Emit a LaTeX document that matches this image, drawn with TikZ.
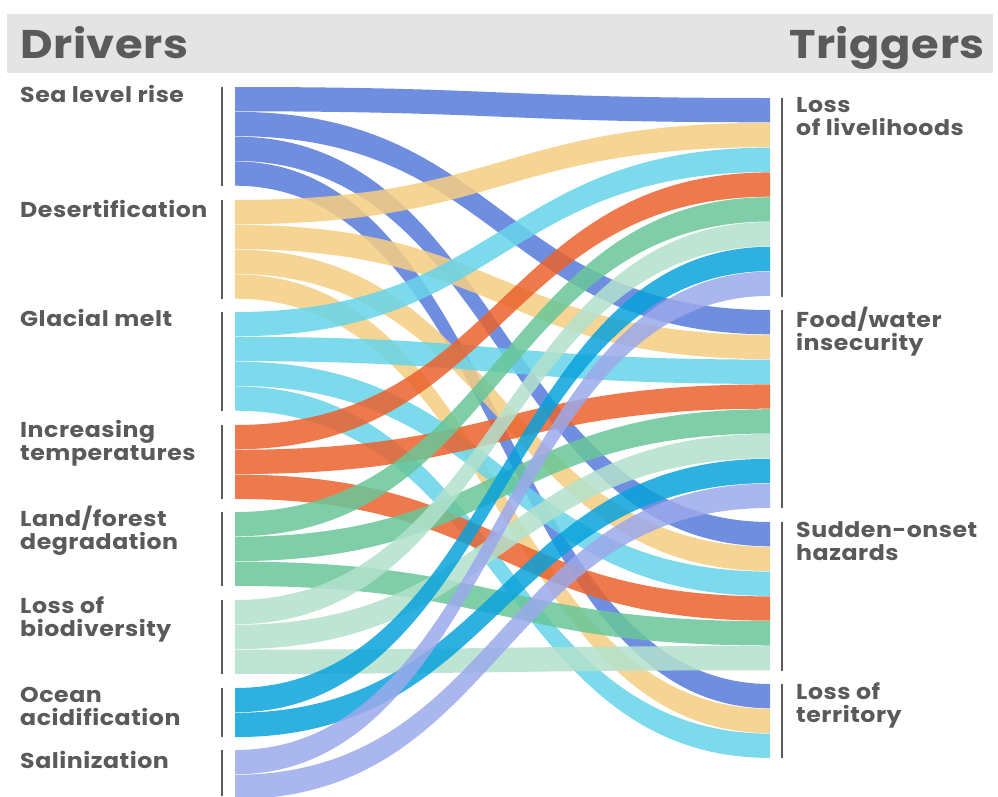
\documentclass[tikz,border=0pt]{standalone}
\usepackage{fontspec}
\setmainfont{Poppins}
\newfontfamily\labelfont{Poppins}[FakeStretch=1.1, LetterSpace=2.5]
\newfontfamily\headfont{Poppins}[FakeStretch=1.12, LetterSpace=1.5]
\usepackage{tikz}

\definecolor{headbg}{RGB}{228,228,228}
\definecolor{inkgray}{RGB}{90,90,90}
\definecolor{sealevel}{RGB}{87,122,219}
\definecolor{desert}{RGB}{245,206,129}
\definecolor{glacier}{RGB}{102,212,233}
\definecolor{heat}{RGB}{235,98,45}
\definecolor{landgreen}{RGB}{104,198,153}
\definecolor{biogreen}{RGB}{179,225,205}
\definecolor{ocean}{RGB}{9,162,219}
\definecolor{saltlav}{RGB}{155,169,235}

% one band: left top, right top, colour
\newcommand{\flow}[3]{%
  \fill[#3, fill opacity=0.85] (235,#1) .. controls (502,#1) and (502,#2) .. (770,#2)
    -- (770,#2+24.3) .. controls (502,#2+24.3) and (502,#1+24.3) .. (235,#1+24.3) -- cycle;}

\tikzset{
  title/.style={inner sep=0pt, text=inkgray, font=\headfont\fontsize{40}{44}\selectfont\bfseries},
  driver/.style={anchor=base west, align=left, inner sep=0pt, text=inkgray,
    font=\labelfont\fontsize{21.5}{22.5}\selectfont\bfseries},
  groupline/.style={draw=inkgray, line width=1.3pt}
}

\begin{document}
\begin{tikzpicture}[x=1pt, y=-1pt]
  \useasboundingbox (0,0) rectangle (998,796);

  % Header
  \fill[headbg] (7,14) rectangle (993,73);
  \node[title, anchor=base west] (drivers) at (20,58) {Drivers};
  \node[title, anchor=base east] (triggers) at (985,58) {Triggers};

  % Sea level rise
  \flow{87}{98}{sealevel}
  \flow{111.8}{310}{sealevel}
  \flow{136.6}{522}{sealevel}
  \flow{161.4}{684}{sealevel}

  % Desertification
  \flow{200}{122.8}{desert}
  \flow{224.8}{334.8}{desert}
  \flow{249.6}{546.8}{desert}
  \flow{274.4}{708.8}{desert}

  % Glacial melt
  \flow{312}{147.6}{glacier}
  \flow{336.8}{359.6}{glacier}
  \flow{361.6}{571.6}{glacier}
  \flow{386.4}{733.6}{glacier}

  % Increasing temperatures
  \flow{425}{172.4}{heat}
  \flow{449.8}{384.4}{heat}
  \flow{474.6}{596.4}{heat}

  % Land/forest degradation
  \flow{512}{197.2}{landgreen}
  \flow{536.8}{409.2}{landgreen}
  \flow{561.6}{621.2}{landgreen}

  % Loss of biodiversity
  \flow{600}{222}{biogreen}
  \flow{624.8}{434}{biogreen}
  \flow{649.6}{646}{biogreen}

  % Ocean acidification
  \flow{688}{246.8}{ocean}
  \flow{712.8}{458.8}{ocean}

  % Salinization
  \flow{750}{271.6}{saltlav}
  \flow{774.8}{483.6}{saltlav}

  % Group rules, left
  \draw[groupline] (222,87) -- (222,186);
  \draw[groupline] (222,200) -- (222,299);
  \draw[groupline] (222,312) -- (222,411);
  \draw[groupline] (222,425) -- (222,499);
  \draw[groupline] (222,512) -- (222,586);
  \draw[groupline] (222,600) -- (222,674);
  \draw[groupline] (222,688) -- (222,737);
  \draw[groupline] (222,750) -- (222,796);

  % Group rules, right
  \draw[groupline] (782,98) -- (782,297);
  \draw[groupline] (782,310) -- (782,508);
  \draw[groupline] (782,522) -- (782,671);
  \draw[groupline] (782,684) -- (782,758);

  % Driver labels (base = last line)
  \node[driver] (sea) at (20,102) {Sea level rise};
  \node[driver] (desert) at (20,217) {Desertification};
  \node[driver] (glacial) at (20,326) {Glacial melt};
  \node[driver] (temp) at (20,460) {Increasing\\temperatures};
  \node[driver] (land) at (20,549) {Land/forest\\degradation};
  \node[driver] (bio) at (20,636) {Loss of\\biodiversity};
  \node[driver] (acid) at (20,725) {Ocean\\acidification};
  \node[driver] (salt) at (20,768) {Salinization};

  % Trigger labels
  \node[driver] (liveli) at (796,135) {Loss\\of livelihoods};
  \node[driver] (food) at (796,350) {Food/water\\insecurity};
  \node[driver] (hazard) at (796,560) {Sudden-onset\\hazards};
  \node[driver] (terr) at (796,722) {Loss of\\territory};
\end{tikzpicture}
\end{document}
